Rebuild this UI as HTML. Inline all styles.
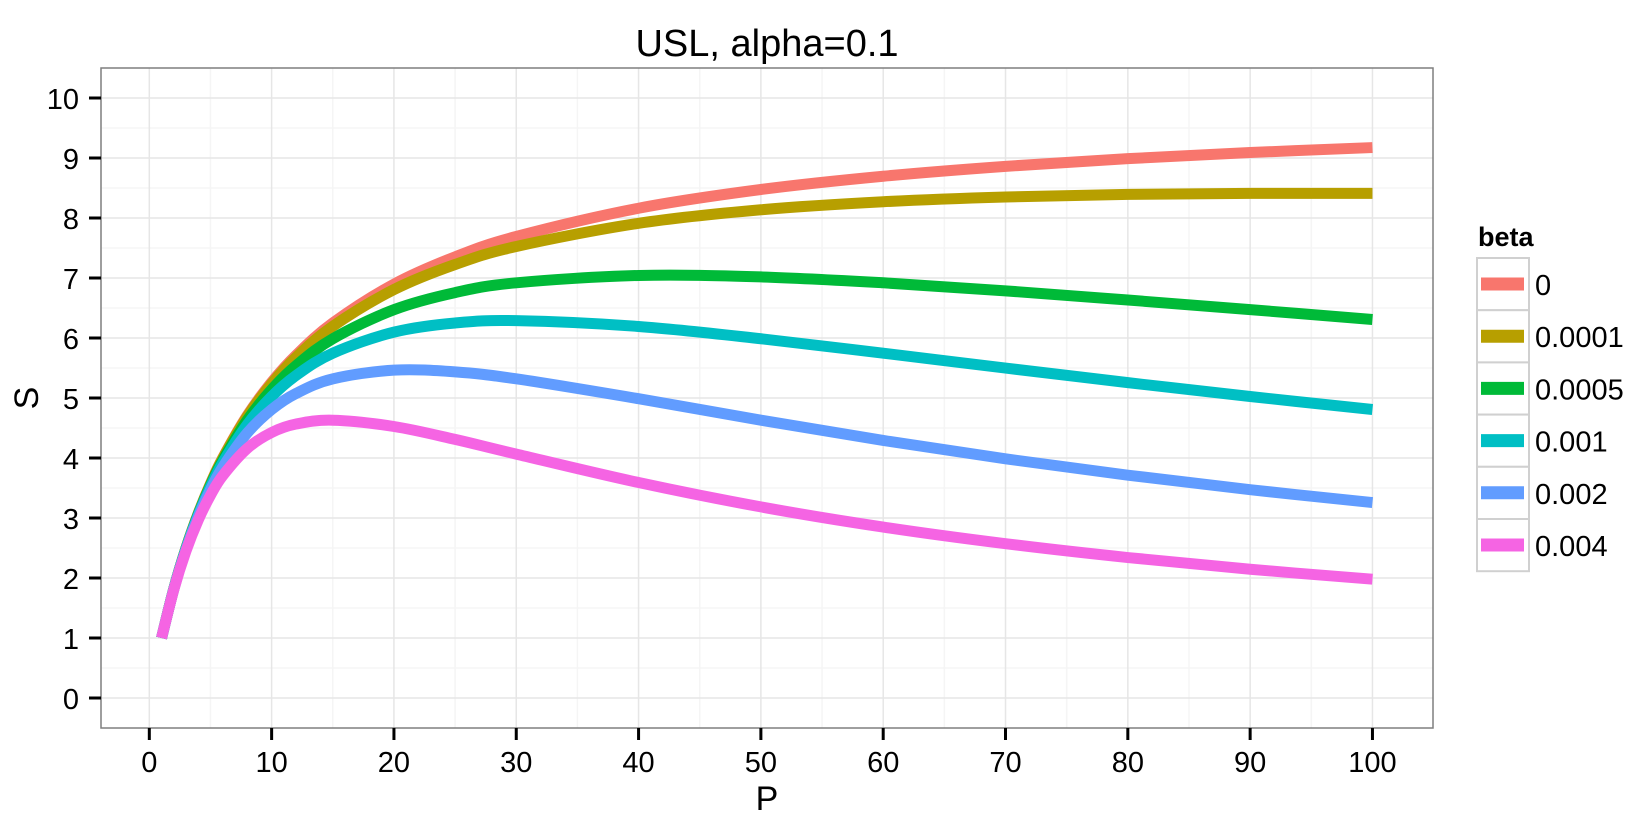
<!DOCTYPE html>
<html><head><meta charset="utf-8"><style>
html,body{margin:0;padding:0;background:#fff;}
svg{display:block;font-family:"Liberation Sans",Arial,sans-serif;}
</style></head><body>
<svg id="chart" width="1630" height="826" viewBox="0 0 1630 826">
<text x="767" y="56" text-anchor="middle" font-size="38">USL, alpha=0.1</text>
<g id="grid"></g>
<g id="lines"></g>
<rect x="101" y="68" width="1332" height="660" fill="none" stroke="#7f7f7f" stroke-width="1.5"/>
<g id="axes"></g>
<text x="767" y="810" text-anchor="middle" font-size="34">P</text>
<text transform="translate(38,398) rotate(-90)" text-anchor="middle" font-size="34">S</text>
<g id="legend"></g>
</svg>
<script>
const P = [1,2,3,4,5,6,8,10,12,15,20,25,30,40,50,60,70,80,90,100];
const betaLabels = ["0","0.0001","0.0005","0.001","0.002","0.004"];
const colors = ["#F8766D","#B79F00","#00BA38","#00BFC4","#619CFF","#F564E3"];
const s0 = [1,1.818,2.5,3.077,3.571,4,4.706,5.263,5.714,6.25,6.897,7.353,7.692,8.163,8.475,8.696,8.861,8.989,9.091,9.174];
const s1 = [1,1.818,2.499,3.074,3.566,3.992,4.690,5.238,5.679,6.196,6.807,7.225,7.525,7.911,8.137,8.271,8.350,8.393,8.410,8.410];
const s2 = [1,1.817,2.494,3.063,3.546,3.960,4.630,5.141,5.540,5.988,6.472,6.757,6.920,7.042,7.018,6.920,6.786,6.633,6.473,6.309];
const s3 = [1,1.815,2.488,3.049,3.521,3.922,4.556,5.025,5.376,5.747,6.098,6.25,6.289,6.192,5.988,5.747,5.499,5.256,5.025,4.808];
const s4 = [1,1.812,2.475,3.021,3.472,3.846,4.415,4.808,5.076,5.319,5.464,5.435,5.319,4.988,4.630,4.292,3.986,3.714,3.472,3.257];
const s5 = [1,1.805,2.451,2.967,3.378,3.704,4.158,4.425,4.566,4.630,4.525,4.310,4.065,3.591,3.185,2.849,2.572,2.341,2.146,1.980];
const series = [s0,s1,s2,s3,s4,s5];
const xTicks = [0,10,20,30,40,50,60,70,80,90,100];
const yTicks = [0,1,2,3,4,5,6,7,8,9,10];

const NS="http://www.w3.org/2000/svg";
const L=101,R=1433,T=68,B=728;
const xMin=-3.95,xMax=104.95,yMin=-0.5,yMax=10.5;
const xs=v=>L+(v-xMin)/(xMax-xMin)*(R-L);
const ys=v=>B-(v-yMin)/(yMax-yMin)*(B-T);
function mk(tag,attrs,parent){const e=document.createElementNS(NS,tag);for(const k in attrs)e.setAttribute(k,attrs[k]);parent.appendChild(e);return e;}
const grid=document.getElementById('grid'),axes=document.getElementById('axes'),lines=document.getElementById('lines'),leg=document.getElementById('legend');
for(let i=0;i<xTicks.length-1;i++){const v=(xTicks[i]+xTicks[i+1])/2;
 const g=mk('line',{x1:xs(v),x2:xs(v),y1:T,y2:B,stroke:'#f5f5f5','stroke-width':1.5},grid);
 
 }
for(let i=0;i<yTicks.length-1;i++){const v=(yTicks[i]+yTicks[i+1])/2;
 const g=mk('line',{x1:L,x2:R,y1:ys(v),y2:ys(v),stroke:'#f5f5f5','stroke-width':1.5},grid);
 
 }
xTicks.forEach(v=>{
 const g=mk('line',{x1:xs(v),x2:xs(v),y1:T,y2:B,stroke:'#e6e6e6','stroke-width':1.5},grid);
 
 
 const t=mk('line',{x1:xs(v),x2:xs(v),y1:B,y2:B+12,stroke:'#000','stroke-width':3},axes);
 
 
 const lb=mk('text',{x:xs(v),y:B+44,'text-anchor':'middle','font-size':29},axes);lb.textContent=v;
 
 
});
yTicks.forEach(v=>{
 const g=mk('line',{x1:L,x2:R,y1:ys(v),y2:ys(v),stroke:'#e6e6e6','stroke-width':1.5},grid);
 
 
 const t=mk('line',{x1:L-12,x2:L,y1:ys(v),y2:ys(v),stroke:'#000','stroke-width':3},axes);
 
 
 const lb=mk('text',{x:79,y:ys(v)+11,'text-anchor':'end','font-size':29},axes);lb.textContent=v;
 
 
});
function smooth(pts){let d=`M${pts[0][0]},${pts[0][1]}`;
 for(let i=0;i<pts.length-1;i++){const p0=pts[Math.max(0,i-1)],p1=pts[i],p2=pts[i+1],p3=pts[Math.min(pts.length-1,i+2)];
  const c1=[p1[0]+(p2[0]-p0[0])/6,p1[1]+(p2[1]-p0[1])/6],c2=[p2[0]-(p3[0]-p1[0])/6,p2[1]-(p3[1]-p1[1])/6];
  d+=` C${c1[0]},${c1[1]} ${c2[0]},${c2[1]} ${p2[0]},${p2[1]}`;}return d;}
series.forEach((s,k)=>{
 const pts=P.map((p,i)=>[xs(p),ys(s[i])]);
 const e=mk('path',{d:smooth(pts),fill:'none',stroke:colors[k],'stroke-width':11},lines);
 
 
});
const lt=mk('text',{x:1478,y:246,'font-size':27,'font-weight':'bold'},leg);lt.textContent='beta';


betaLabels.forEach((b,k)=>{
 const y0=258+k*52.2;
 const g=mk('g',{},leg);
 
 
 mk('rect',{x:1477,y:y0,width:52,height:52.2,fill:'#fff',stroke:'#d0d0d0','stroke-width':2},g);
 mk('line',{x1:1481,x2:1524,y1:y0+26,y2:y0+26,stroke:colors[k],'stroke-width':13},g);
 const t=mk('text',{x:1535,y:y0+37,'font-size':29},g);t.textContent=b;
});
</script>
</body></html>
